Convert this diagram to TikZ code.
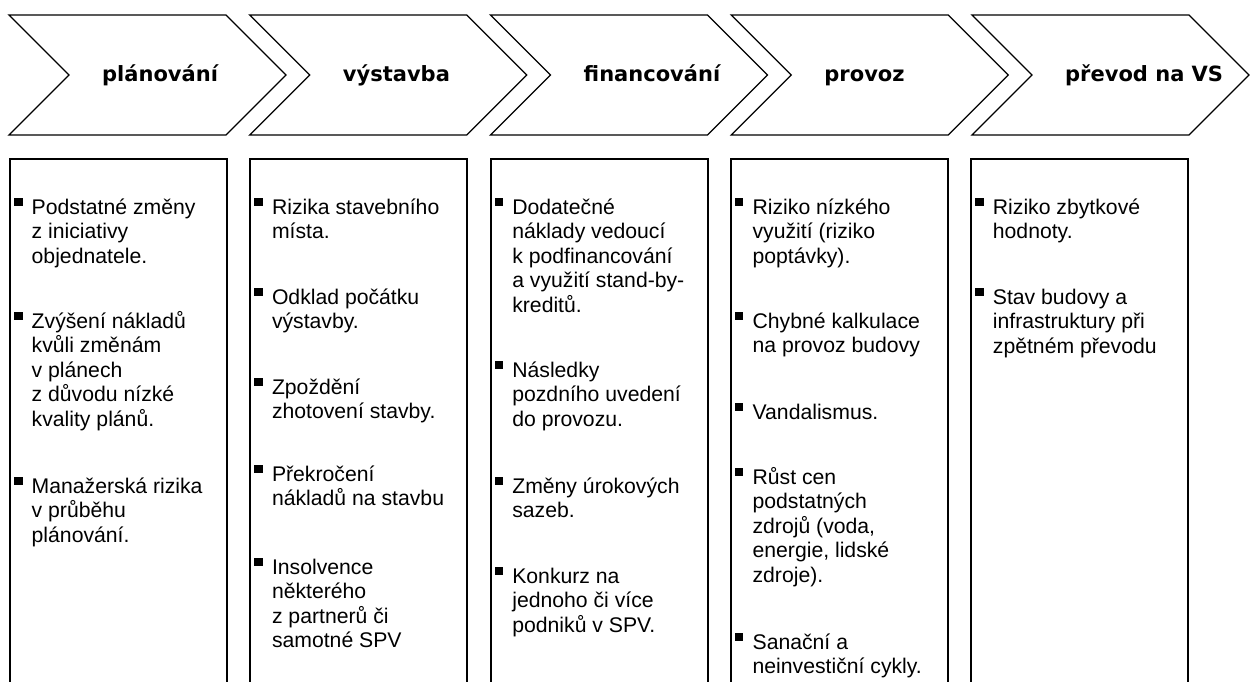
\documentclass[tikz,border=0pt]{standalone}
\usepackage{fontspec}
\setmainfont{Liberation Sans}
\newfontfamily\chevfont{DejaVu Sans}
\newcommand{\riskitem}[4]{%
  \node[item] (#1) at (#2,#3-20) {\rule{0pt}{20pt}#4};
  \fill[bul] ([xshift=-17.5pt,yshift=-3.5pt]#1.north west) rectangle ++(8.5,8.5);
}
\begin{document}
\begin{tikzpicture}[x=1pt,y=-1pt,
  chev/.style={draw=black, line width=1.3pt, line join=miter},
  riskbox/.style={draw=black, line width=1.8pt, line join=miter},
  phase/.style={font=\chevfont\bfseries\fontsize{21}{25}\selectfont, anchor=base west, inner sep=0pt},
  item/.style={font=\fontsize{21.2}{24.5}\selectfont, anchor=north west, inner sep=0pt, align=left},
  bul/.style={fill=black}
]
\useasboundingbox (0,0) rectangle (1250,682);
\clip (0,0) rectangle (1250,682);
\fill[white] (0,0) rectangle (1250,682);
% chevrons
\foreach \i/\lab in {0/plánování,1/výstavba,2/financování,3/provoz,4/převod na VS} {
  \pgfmathsetmacro\cx{9+240.75*\i}
  \draw[chev] (\cx,15) -- (\cx+217,15) -- (\cx+277,75) -- (\cx+217,135) -- (\cx,135) -- (\cx+60,75) -- cycle;
  \node[phase] (ph\i) at (\cx+93,82) {\lab};
}
% boxes (open at the bottom)
\foreach \i in {0,...,4} {
  \pgfmathsetmacro\bx{10+240.3*\i}
  \draw[riskbox] (\bx,700) -- (\bx,159) -- (\bx+217,159) -- (\bx+217,700);
}
% box 1
\riskitem{a1}{31.5}{214}{Podstatné změny\\z iniciativy\\objednatele.}
\riskitem{a2}{31.5}{328}{Zvýšení nákladů\\kvůli změnám\\v plánech\\z důvodu nízké\\kvality plánů.}
\riskitem{a3}{31.5}{493}{Manažerská rizika\\v průběhu\\plánování.}
% box 2
\riskitem{b1}{271.8}{214}{Rizika stavebního\\místa.}
\riskitem{b2}{271.8}{304}{Odklad počátku\\výstavby.}
\riskitem{b3}{271.8}{394}{Zpoždění\\zhotovení stavby.}
\riskitem{b4}{271.8}{481}{Překročení\\nákladů na stavbu}
\riskitem{b5}{271.8}{574}{Insolvence\\některého\\z partnerů či\\samotné SPV}
% box 3
\riskitem{c1}{512.1}{214}{Dodatečné\\náklady vedoucí\\k podfinancování\\a využití stand-by-\\kreditů.}
\riskitem{c2}{512.1}{377}{Následky\\pozdního uvedení\\do provozu.}
\riskitem{c3}{512.1}{493}{Změny úrokových\\sazeb.}
\riskitem{c4}{512.1}{583}{Konkurz na\\jednoho či více\\podniků v SPV.}
% box 4
\riskitem{d1}{752.4}{214}{Riziko nízkého\\využití (riziko\\poptávky).}
\riskitem{d2}{752.4}{328}{Chybné kalkulace\\na provoz budovy}
\riskitem{d3}{752.4}{419}{Vandalismus.}
\riskitem{d4}{752.4}{484}{Růst cen\\podstatných\\zdrojů (voda,\\energie, lidské\\zdroje).}
\riskitem{d5}{752.4}{649}{Sanační a\\neinvestiční cykly.}
% box 5
\riskitem{e1}{992.7}{214}{Riziko zbytkové\\hodnoty.}
\riskitem{e2}{992.7}{304}{Stav budovy a\\infrastruktury při\\zpětném převodu}
\end{tikzpicture}
\end{document}
